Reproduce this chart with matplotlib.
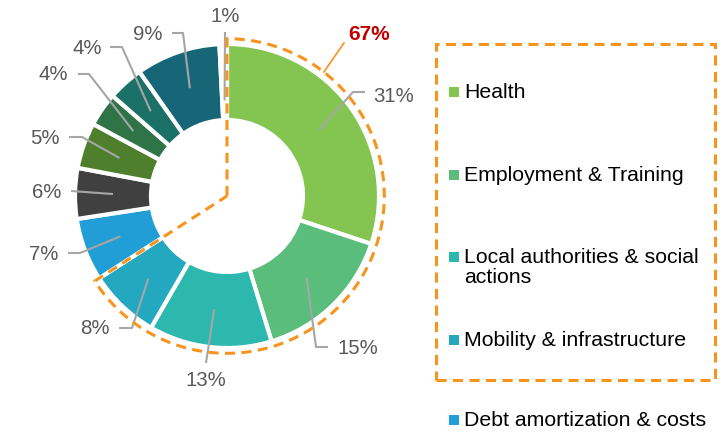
import numpy as np
import matplotlib
matplotlib.use("Agg")
import matplotlib.pyplot as plt
from matplotlib.patches import Rectangle

plt.rcParams['font.family'] = ['Liberation Sans', 'DejaVu Sans']

# ---------------- data ----------------
categories = ["Health", "Employment & Training", "Local authorities & social\nactions",
              "Mobility & infrastructure", "Debt amortization & costs",
              "Category 6", "Category 7", "Category 8", "Category 9", "Category 10", "Category 11"]
shares = [30.2, 15.2, 13.1, 7.6, 6.7, 5.4, 4.9, 3.6, 3.8, 9.0, 0.8]
share_labels = ["31%", "15%", "13%", "8%", "7%", "6%", "5%", "4%", "4%", "9%", "1%"]
colors = ["#84C551", "#5BBD7C", "#2DB8AE", "#24A8C0", "#229ED6", "#404040",
          "#4E7F2C", "#2E7446", "#1B7067", "#176677", "#FFFFFF"]
highlight_count = 4          # first four slices form the highlighted group
highlight_label = "67%"
legend_count = 5             # visible legend entries

# ---------------- layout ----------------
W, H = 728, 432
CX, CY, R = 227, 196, 152     # pie centre / radius in pixels

fig = plt.figure(figsize=(W / 100, H / 100), dpi=100)
ax = fig.add_axes([0, 0, 1, 1])
ax.axis('off')

def P(px, py):
    return ((px - CX) / R, (CY - py) / R)

wedges, _ = ax.pie(shares, startangle=90, counterclock=False, radius=1.0,
                   colors=colors, center=(0, 0), frame=False,
                   wedgeprops=dict(width=0.5, edgecolor='white', linewidth=3))
ax.set_xlim(-CX / R, (W - CX) / R)
ax.set_ylim(-(H - CY) / R, CY / R)
ax.set_aspect('auto')

# ---------------- data labels with leader lines ----------------
label_pos = [(394, 96), (358, 348), (206, 381), (95, 329), (44, 254), (47, 192),
             (45, 139), (53, 74), (87, 48), (148, 35), (225, 16)]
elbows = [[(365, 92), (353, 92)], [(328, 347), (316, 347)], [(206, 363)],
          [(119, 328), (132, 328)], [(68, 253), (80, 253)], [(71, 191)],
          [(69, 137), (82, 137)], [(78, 74), (89, 74)], [(110, 47), (122, 47)],
          [(172, 33), (183, 33)], [(225, 32)]]
leader_r = [0.75] * 10 + [0.63]

total = sum(shares)
cum = np.cumsum([0] + shares)
gray = "#A6A6A6"
for i, lab in enumerate(share_labels):
    mid = np.deg2rad(90 - (cum[i] + shares[i] / 2) / total * 360)
    end = (leader_r[i] * np.cos(mid), leader_r[i] * np.sin(mid))
    pts = [P(*e) for e in elbows[i]] + [end]
    xs, ys = zip(*pts)
    ax.plot(xs, ys, color=gray, lw=1.5, solid_capstyle='butt', zorder=3)
    tx, ty = P(*label_pos[i])
    ax.text(tx, ty, lab, ha='center', va='center', fontsize=14.7, color="#595959")

# ---------------- highlighted group outline ----------------
orange = "#F7941D"
dash = (0, (3.3, 2.1))
rr = 1.035
a0 = 90
a1 = 90 - cum[highlight_count] / total * 360
th = np.deg2rad(np.linspace(a0, a1, 200))
px = np.concatenate([[0], rr * np.cos(th), [0]])
py = np.concatenate([[0], rr * np.sin(th), [0]])
ax.plot(px, py, color=orange, lw=2.2, ls=dash, zorder=4)

# 67% callout
ang = np.deg2rad(52)
p1 = (rr * np.cos(ang), rr * np.sin(ang))
p2 = P(344, 43)
ax.plot([p1[0], p2[0]], [p1[1], p2[1]], color=orange, lw=1.2, zorder=4)
tx, ty = P(369, 35)
ax.text(tx, ty, highlight_label, ha='center', va='center', fontsize=15,
        fontweight='bold', color="#C00000")

# ---------------- legend ----------------
bx0, by0 = P(436, 380)
bx1, by1 = P(715, 44)
ax.add_patch(Rectangle((bx0, by0), bx1 - bx0, by1 - by0, fill=False,
                       edgecolor=orange, lw=2.2, ls=dash, zorder=4))
legend_y = [92, 175, 257, 340, 420]
sq = 10 / R
for i in range(legend_count):
    mx, my = P(454, legend_y[i])
    ax.add_patch(Rectangle((mx - sq / 2, my - sq / 2), sq, sq,
                           color=colors[i], lw=0, zorder=5))
    tx, ty = P(464, legend_y[i])
    ax.text(tx, ty + 9 / R, categories[i], ha='left', va='top', fontsize=15.3,
            color="#000000", linespacing=1.05)

fig.savefig("out.png", dpi=100)
